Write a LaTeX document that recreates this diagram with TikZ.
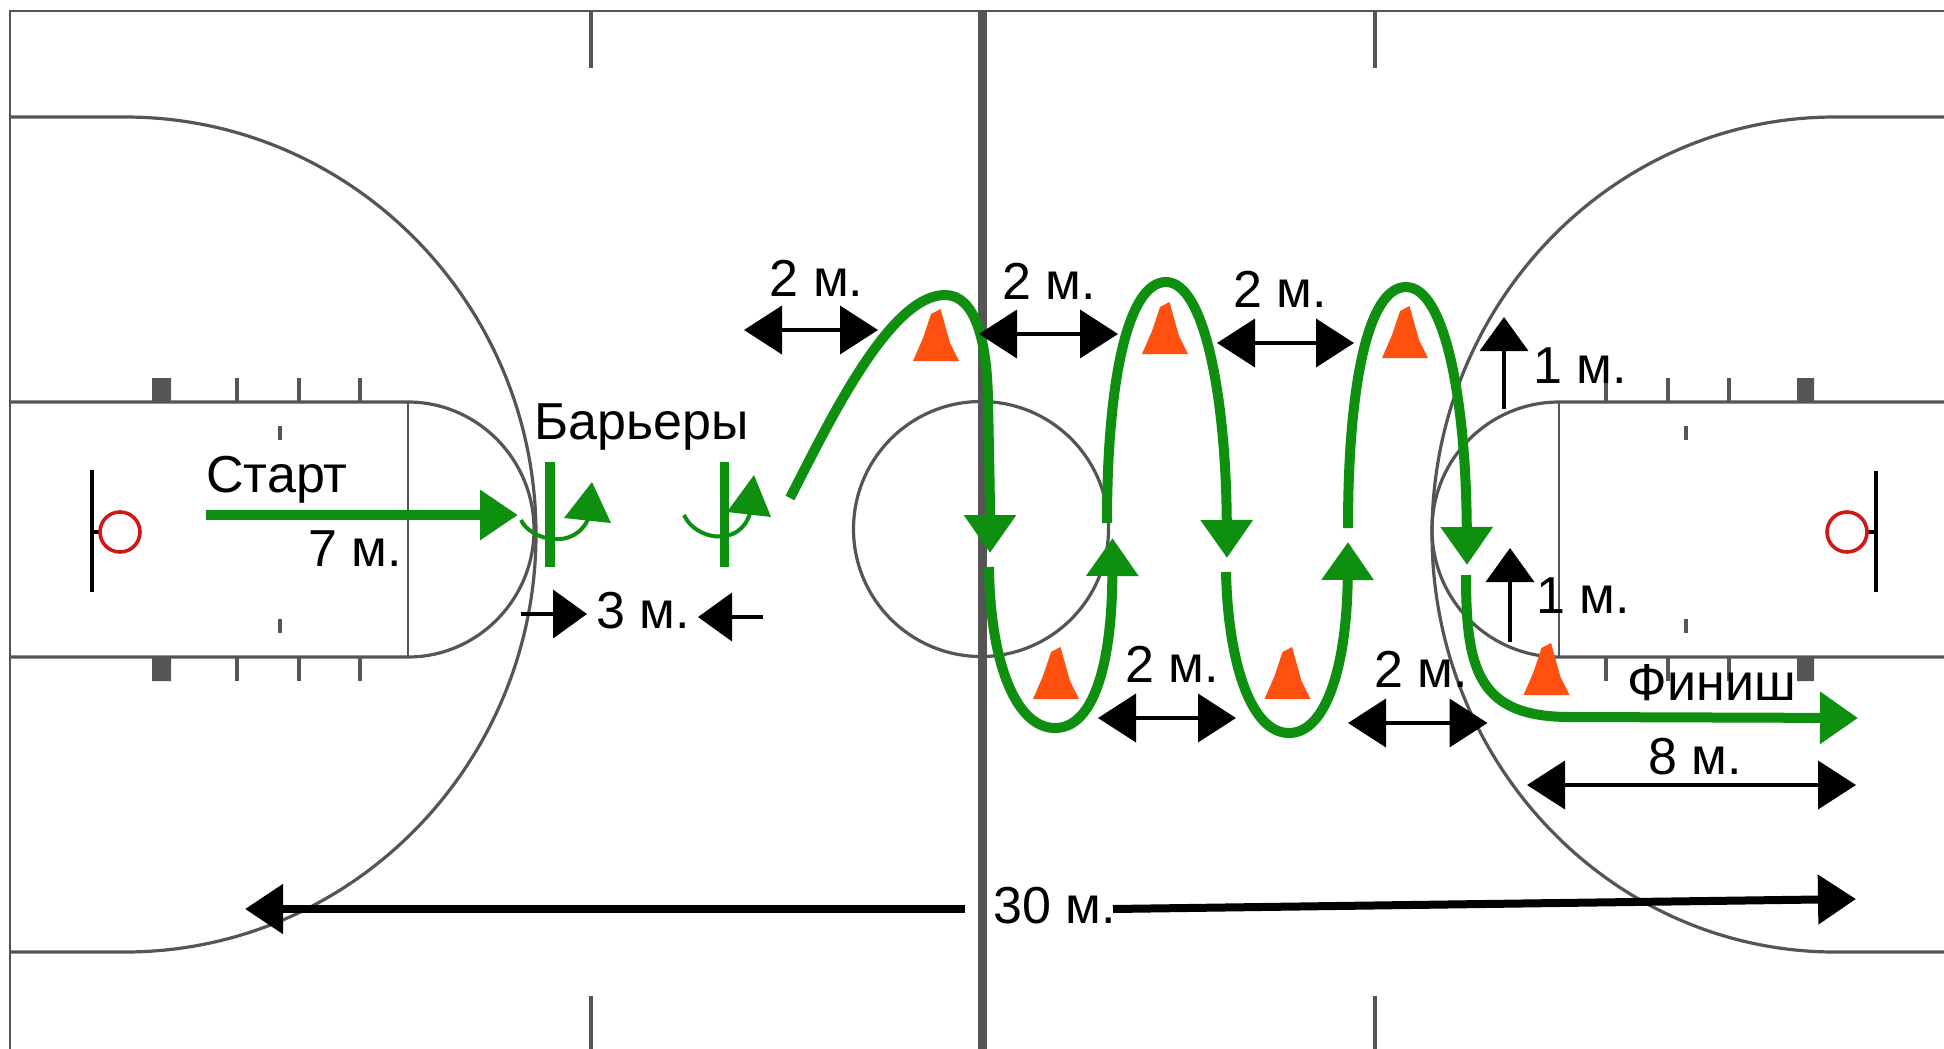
\documentclass[tikz,border=0pt]{standalone}
\usepackage{fontspec}
\setmainfont{Liberation Sans}
\usetikzlibrary{arrows.meta}
\definecolor{court}{HTML}{555555}
\definecolor{route}{HTML}{0F8F0F}
\definecolor{cone}{HTML}{FF5010}
\definecolor{hoop}{HTML}{D01818}
\tikzset{
  courtline/.style={draw=court,line width=1.6pt},
  thinline/.style={draw=court,line width=1.1pt},
  borderline/.style={draw=court,line width=1.1pt},
  blockmark/.style={fill=court,draw=none},
  routeline/.style={draw=route,line width=5pt,-{Triangle[length=19pt,width=25pt]}},
  hurdle/.style={draw=route,line width=4.6pt},
  turnline/.style={draw=route,line width=2pt},
  turnhead/.style={fill=route,draw=none},
  dimdouble/.style={draw=black,line width=2pt,{Triangle[length=19pt,width=24pt]}-{Triangle[length=19pt,width=24pt]}},
  dimsingle/.style={draw=black,line width=2pt,-{Triangle[length=17pt,width=24pt]}},
  dimheavy/.style={draw=black,line width=4pt,-{Triangle[length=19pt,width=24pt]}},
  lab/.style={inner sep=0pt,font=\fontsize{26}{28}\selectfont,text=black},
  conefill/.style={fill=cone,draw=none},
}
\newcommand{\conemark}[2]{\fill[conefill] (#1-23,#2) -- (#1-13,#2-23) -- (#1-5,#2-47) -- (#1+4.5,#2-52) -- (#1+14,#2-18) -- (#1+23,#2) -- cycle;}
\begin{document}
\begin{tikzpicture}[x=0.5pt,y=-0.5pt]
\useasboundingbox (0,0) rectangle (1944,1049);
\fill[white] (0,0) rectangle (1944,1049);
% outer boundary and centre line
\draw[borderline] (10,1049) -- (10,11) -- (1944,11);
\draw[draw=court,line width=4.4pt] (982.5,11) -- (982.5,1049);
\draw[courtline] (591,11) -- (591,68) (591,996) -- (591,1049);
\draw[courtline] (1375,11) -- (1375,68) (1375,996) -- (1375,1049);
% left end
\draw[courtline] (10,117) -- (125,117) .. controls (352,117) and (536,304) .. (536,534) .. controls (536,764) and (352,952) .. (125,952) -- (10,952);
\draw[courtline] (10,402) -- (408,402) .. controls (477,402) and (534,459) .. (534,529.5) .. controls (534,600) and (477,657) .. (408,657) -- (10,657);
\draw[thinline] (408,402) -- (408,657);
\fill[blockmark] (152,378) rectangle (171,402) (152,657) rectangle (171,681);
\draw[courtline] (237,378) -- (237,402) (299,378) -- (299,402) (360,378) -- (360,402);
\draw[courtline] (237,657) -- (237,681) (299,657) -- (299,681) (360,657) -- (360,681);
\draw[courtline] (280,426) -- (280,440) (280,619) -- (280,633);
\draw[black,line width=1.6pt] (92,470) -- (92,592) (92,532) -- (100,532);
\draw[hoop,line width=1.8pt] (120,532) circle (20);
% right end
\draw[courtline] (1944,117) -- (1835,117) .. controls (1612,117) and (1432,304) .. (1432,534) .. controls (1432,764) and (1612,952) .. (1835,952) -- (1944,952);
\draw[courtline] (1944,402) -- (1559,402) .. controls (1489,402) and (1432,459) .. (1432,529.5) .. controls (1432,600) and (1489,657) .. (1559,657) -- (1944,657);
\draw[thinline] (1559,402) -- (1559,657);
\fill[blockmark] (1797,378) rectangle (1814,402) (1797,657) rectangle (1814,681);
\draw[courtline] (1606,378) -- (1606,402) (1668,378) -- (1668,402) (1729,378) -- (1729,402);
\draw[courtline] (1606,657) -- (1606,681) (1668,657) -- (1668,681) (1729,657) -- (1729,681);
\draw[courtline] (1686,426) -- (1686,440) (1686,619) -- (1686,633);
\draw[black,line width=1.6pt] (1876,471) -- (1876,592) (1876,532) -- (1867,532);
\draw[hoop,line width=1.8pt] (1847,532) circle (20);
% centre circle
\draw[courtline] (981,529) circle (127.5);
% cones
\conemark{936}{361}
\conemark{1165}{354}
\conemark{1405}{358}
\conemark{1056}{699}
\conemark{1287.5}{699}
\conemark{1546.5}{695}
% hurdles
\draw[hurdle] (550,462) -- (550,567);
\draw[hurdle] (724.5,462) -- (724.5,567);
% turns round the hurdles
\draw[turnline] (521,520) .. controls (530,540) and (575,552) .. (589,517);
\fill[turnhead] (592,482) -- (564,518) -- (611,523) -- cycle;
\draw[turnline] (684,515) .. controls (695,540) and (740,548) .. (750,513);
\fill[turnhead] (754,475) -- (727,512) -- (771,517) -- cycle;
% route
\draw[draw=route,line width=5.4pt,-{Triangle[length=19pt,width=24pt]}] (206,515) -- (518,515);
\draw[routeline] (790,498) .. controls (830,420) and (890,295) .. (945,295) .. controls (975,295) and (987,340) .. (988,400) .. controls (989,450) and (990,500) .. (990,553);
\draw[routeline] (989,567) .. controls (990,660) and (1015,728) .. (1055,728) .. controls (1095,728) and (1112,660) .. (1112.5,538);
\draw[routeline] (1107,523) .. controls (1107,380) and (1128,282) .. (1166,282) .. controls (1205,282) and (1226,400) .. (1227,558);
\draw[routeline] (1226,572) .. controls (1228,660) and (1250,733) .. (1289,733) .. controls (1328,733) and (1347,660) .. (1348,542);
\draw[routeline] (1348,528) .. controls (1348,385) and (1368,287) .. (1406,287) .. controls (1445,287) and (1466,400) .. (1467,565);
\draw[routeline] (1466,575) .. controls (1466,670) and (1478,717) .. (1570,717) -- (1858,718);
% dimensions
\draw[dimdouble] (744,330) -- (878,330);
\draw[dimdouble] (979,334) -- (1118,334);
\draw[dimdouble] (1217,343) -- (1354,343);
\draw[dimdouble] (1098,718) -- (1236,718);
\draw[dimdouble] (1348,723) -- (1487.5,723);
\draw[dimdouble] (1527,785) -- (1856,785);
\draw[dimsingle] (521,614) -- (587,614);
\draw[dimsingle] (763,617) -- (698,617);
\draw[dimsingle] (1504,409) -- (1504,317);
\draw[dimsingle] (1510,642) -- (1510,548);
\node[lab] (t30) at (1055,906) {30 м.};
\coordinate (leftend) at (245,909);
\coordinate (rightend) at (1856,899);
\draw[dimheavy] (965,909) -- (leftend);
\draw[dimheavy] (1113,909) -- (rightend);
% labels
\node[lab] (start) at (277,480) {Старт};
\node[lab] (seven) at (355,549) {7 м.};
\node[lab] (barriers) at (642,427) {Барьеры};
\node[lab] (three) at (643,611) {3 м.};
\node[lab] (a) at (816.5,278) {2 м.};
\node[lab] (b) at (1049,281) {2 м.};
\node[lab] (c) at (1280,289) {2 м.};
\node[lab] (d) at (1172,664) {2 м.};
\node[lab] (e) at (1421,669) {2 м.};
\node[lab] (f) at (1580,366) {1 м.};
\node[lab] (g) at (1583,596) {1 м.};
\node[lab] (finish) at (1712,683) {Финиш};
\node[lab] (eight) at (1695,757) {8 м.};
\end{tikzpicture}
\end{document}
